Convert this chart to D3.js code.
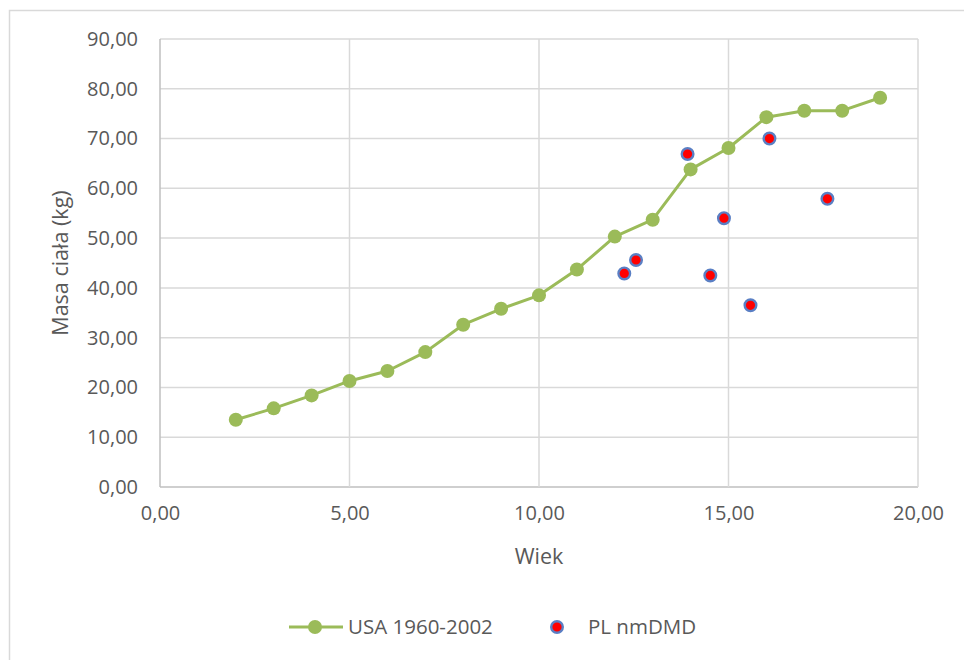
<!DOCTYPE html>
<html>
<head>
<meta charset="utf-8">
<script src="https://cdn.jsdelivr.net/npm/d3@7"></script>
<style>
  html, body { margin: 0; padding: 0; background: #fff; }
  svg { display: block; font-family: "Open Sans", "Noto Sans", sans-serif; }
</style>
</head>
<body>
<svg id="chart" width="964" height="660"></svg>
<script>
// USA reference growth series (age in years, body mass in kg)
const usaAge = [2, 3, 4, 5, 6, 7, 8, 9, 10, 11, 12, 13, 14, 15, 16, 17, 18, 19];
const usaMass = [13.5, 15.8, 18.4, 21.3, 23.3, 27.1, 32.6, 35.8, 38.5, 43.7, 50.3, 53.7, 63.8, 68.1, 74.3, 75.6, 75.6, 78.2];

// PL nmDMD patients
const plAge = [12.25, 12.56, 13.92, 14.52, 14.88, 15.58, 16.08, 17.61];
const plMass = [42.9, 45.6, 66.9, 42.5, 54.0, 36.5, 70.0, 57.9];

const xTicks = [0, 5, 10, 15, 20];
const yTicks = [0, 10, 20, 30, 40, 50, 60, 70, 80, 90];
const seriesNames = ["USA 1960-2002", "PL nmDMD"];

const fmt = v => d3.format(".2f")(v).replace(".", ",");

const svg = d3.select("#chart");
const W = 964, H = 660;
const plot = { left: 160, right: 918, top: 39, bottom: 487 };

const x = d3.scaleLinear().domain([0, 20]).range([plot.left, plot.right]);
const y = d3.scaleLinear().domain([0, 90]).range([plot.bottom, plot.top]);

const textColor = "#595959";
const gridColor = "#d9d9d9";

// chart frame
svg.append("rect")
  .attr("x", 9.5).attr("y", 10.5)
  .attr("width", W + 20).attr("height", H + 20)
  .attr("fill", "none").attr("stroke", gridColor).attr("stroke-width", 1.5);

// gridlines
const grid = svg.append("g");
grid.selectAll(".hg").data(yTicks).join("line")
  .attr("x1", plot.left).attr("x2", plot.right)
  .attr("y1", d => y(d)).attr("y2", d => y(d))
  .attr("stroke", d => d === 0 ? "#bfbfbf" : gridColor)
  .attr("stroke-width", 1.5);
grid.selectAll(".vg").data(xTicks).join("line")
  .attr("x1", d => x(d)).attr("x2", d => x(d))
  .attr("y1", plot.top).attr("y2", plot.bottom)
  .attr("stroke", d => d === 0 ? "#bfbfbf" : gridColor)
  .attr("stroke-width", 1.5);

// axes (labels only; lines drawn with the grid)
const yAxis = d3.axisLeft(y).tickValues(yTicks).tickFormat(fmt).tickSize(0).tickPadding(22);
const yg = svg.append("g").attr("transform", `translate(${plot.left},0)`).call(yAxis);
const xAxis = d3.axisBottom(x).tickValues(xTicks).tickFormat(fmt).tickSize(0).tickPadding(19);
const xg = svg.append("g").attr("transform", `translate(0,${plot.bottom})`).call(xAxis);
[yg, xg].forEach(g => {
  g.select(".domain").remove();
  g.selectAll("text")
    .attr("fill", textColor)
    .style("font-size", "20px")
    .style("font-family", "'Open Sans', sans-serif");
});

// axis titles
svg.append("text")
  .attr("x", x(10)).attr("y", 564)
  .attr("text-anchor", "middle")
  .attr("fill", textColor).style("font-size", "21.5px")
  .text("Wiek");
svg.append("text")
  .attr("transform", `translate(68,${(plot.top + plot.bottom) / 2}) rotate(-90)`)
  .attr("text-anchor", "middle")
  .attr("fill", textColor).style("font-size", "21.5px")
  .text("Masa ciała (kg)");

// USA series: line with markers
const usaData = usaAge.map((a, i) => ({ a, m: usaMass[i] }));
const line = d3.line().x(d => x(d.a)).y(d => y(d.m));
svg.append("path")
  .datum(usaData)
  .attr("d", line)
  .attr("fill", "none")
  .attr("stroke", "#9bbb59")
  .attr("stroke-width", 3)
  .attr("stroke-linejoin", "round");
svg.append("g").selectAll("circle").data(usaData).join("circle")
  .attr("cx", d => x(d.a)).attr("cy", d => y(d.m))
  .attr("r", 7)
  .attr("fill", "#9bbb59");

// PL series: markers only
const plData = plAge.map((a, i) => ({ a, m: plMass[i] }));
svg.append("g").selectAll("circle").data(plData).join("circle")
  .attr("cx", d => x(d.a)).attr("cy", d => y(d.m))
  .attr("r", 5.8)
  .attr("fill", "#ff0000")
  .attr("stroke", "#5a7fc4")
  .attr("stroke-width", 2.4);

// legend
const ly = 627;
const lg = svg.append("g");
lg.append("line")
  .attr("x1", 289).attr("x2", 343).attr("y1", ly).attr("y2", ly)
  .attr("stroke", "#9bbb59").attr("stroke-width", 3);
lg.append("circle").attr("cx", 315).attr("cy", ly).attr("r", 7).attr("fill", "#9bbb59");
lg.append("text")
  .attr("x", 348).attr("y", ly).attr("dy", "0.35em")
  .attr("fill", textColor).style("font-size", "20.5px")
  .text(seriesNames[0]);
lg.append("circle").attr("cx", 557).attr("cy", ly).attr("r", 5.8)
  .attr("fill", "#ff0000").attr("stroke", "#5a7fc4").attr("stroke-width", 2.4);
lg.append("text")
  .attr("x", 588).attr("y", ly).attr("dy", "0.35em")
  .attr("fill", textColor).style("font-size", "20.5px")
  .text(seriesNames[1]);
</script>
</body>
</html>
